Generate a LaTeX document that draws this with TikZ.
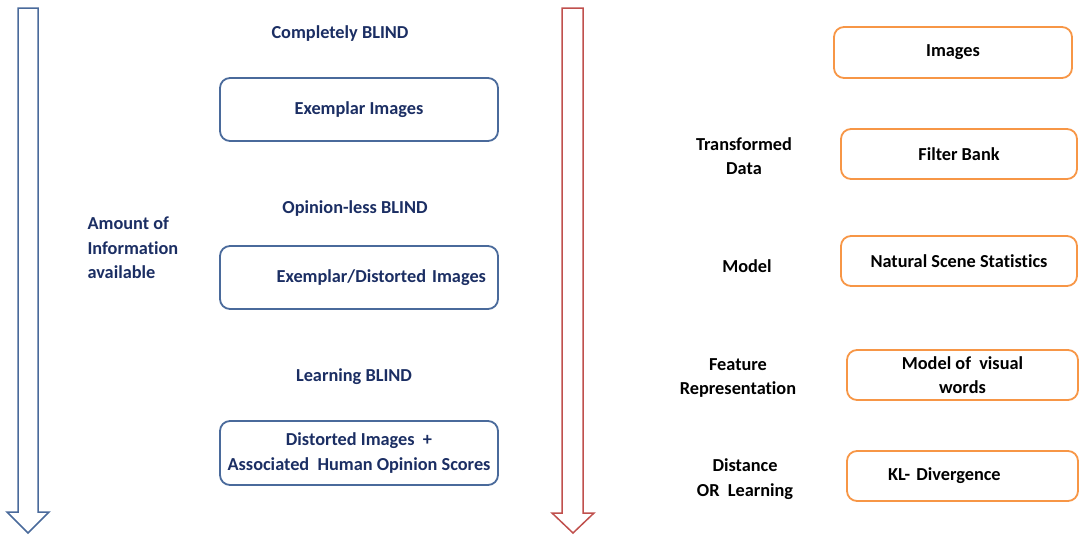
\documentclass[tikz,border=0pt]{standalone}
\usepackage{fontspec}
\setmainfont{Carlito}[Ligatures=NoCommon]
\usepackage{tikz}
\definecolor{navytext}{HTML}{1B2E63}
\definecolor{blueline}{HTML}{4A6A9B}
\definecolor{orangeline}{HTML}{F79646}
\definecolor{redline}{HTML}{C0504D}

\begin{document}
\begin{tikzpicture}[x=1pt, y=-1pt,
  every node/.style = {font=\fontsize{18.3}{24.5}\selectfont\bfseries},
  title/.style = {text=navytext},
  bbox/.style = {draw=blueline, line width=1.8pt, rounded corners=10pt, text=navytext, minimum width=278pt, align=center},
  obox/.style = {draw=orangeline, line width=1.8pt, rounded corners=10pt, minimum height=50pt, align=center},
  side/.style = {align=center}]
\useasboundingbox (0,0) rectangle (1079,539);
% arrows
\draw[blueline, line width=1.5pt, line join=miter] (18,8) -- (38,8) -- (38,512) -- (49,512) -- (28,533) -- (7,512) -- (18,512) -- cycle;
\draw[redline, line width=1.5pt, line join=miter] (562,8) -- (583,8) -- (583,513) -- (594,513) -- (573,533) -- (552,513) -- (562,513) -- cycle;
% left column
\node[title] (t1) at (340,34) {Completely BLIND};
\node[bbox, minimum height=63pt] (b1) at (359,109.5) {Exemplar Images};
\node[title] (t2) at (355,209) {Opinion-less BLIND};
\node[bbox, minimum height=63pt, text width=254pt, inner xsep=12pt, align=right] (b2) at (359,277.5) {Exemplar/Distorted Images};
\node[title] (t3) at (354,377) {Learning BLIND};
\node[bbox, minimum height=64pt] (b3) at (359,453) {Distorted Images\ \ +\\Associated\ \ Human Opinion Scores};
\node[title, anchor=west, align=left] (amt) at (84,248) {Amount of\\Information\\available};
% right column
\node[obox, minimum width=238pt, minimum height=51pt] (r1) at (953,52.5) {Images};
\node[obox, minimum width=236pt] (r2) at (959,154) {Filter Bank};
\node[obox, minimum width=236pt] (r3) at (959,261) {Natural Scene Statistics};
\node[obox, minimum width=231pt] (r4) at (962.5,375) {Model of\ \ visual\\words};
\node[obox, minimum width=231pt, text width=149pt, inner xsep=41pt, align=left] (r5) at (962.5,476) {KL- Divergence};
\node[side] (s2) at (744,156) {Transformed\\Data};
\node[side] (s3) at (747,266) {Model};
\node[side] (s4) at (738,378) {Feature\\Representation};
\node[side] (s5) at (745,479) {Distance\\OR\ \ Learning};
\end{tikzpicture}
\end{document}
